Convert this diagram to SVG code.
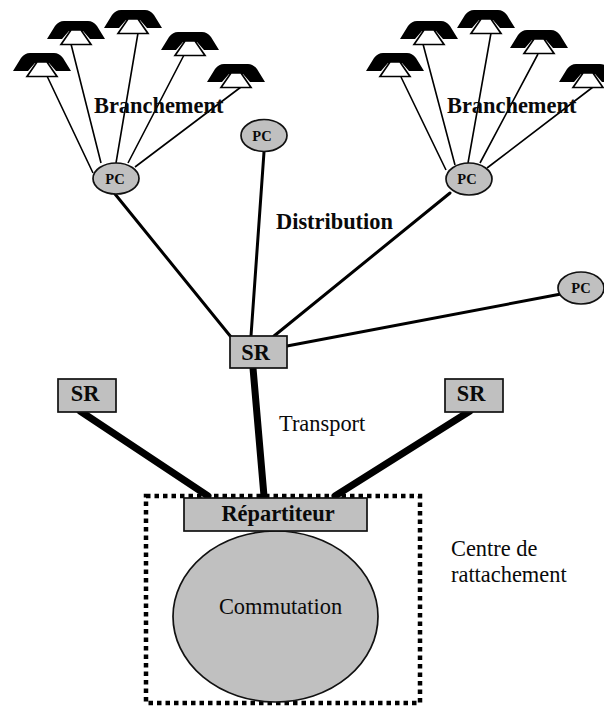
<svg xmlns="http://www.w3.org/2000/svg" width="604" height="706" viewBox="0 0 604 706">
<style>
text{font-family:"Liberation Serif","Times New Roman",serif;fill:#0a0a0a;font-size:22.400px}
.b{font-weight:bold}
.c{text-anchor:middle}
.p{font-size:14.500px}
.g{fill:#c0c0c0;stroke:#111;stroke-width:1.7}
.l1{stroke:#000;stroke-width:1.6;fill:none}
.l2{stroke:#000;stroke-width:3;fill:none;stroke-linecap:round}
.l3{stroke:#000;stroke-width:7;fill:none;stroke-linecap:round}
</style>
<defs>
<g id="phone">
<path d="M-29 18 L-21 5 Q-17 0 -12 0 L12 0 Q17 0 21 5 L29 18 L14 18 L7 10 L-7 10 L-14 18 Z" fill="#000"/>
<path d="M-15 23.500 L-5 9 L5 9 L15 23.500 Z" fill="#fff" stroke="#000" stroke-width="1.700"/>
</g>
</defs>
<g id="connectors">
<path class="l1" d="M47 76L93 173M71 44L101 163M138 33L116 163M184 55L128 163M241 87L135 167"/>
<path class="l1" d="M401 77L446 170M423 44L455 165M491 33L468 163M538 54L480 163M593 87L487 168"/>
<path class="l2" d="M115 194L231 337M264 152L251 336M450 193L274 336M287 346L561 294"/>
<path class="l3" d="M253 368L264 496M80 411L208 496M470 411L335 496"/>
</g>
<g id="phones">
<use href="#phone" x="42" y="53"/><use href="#phone" x="76" y="21"/><use href="#phone" x="133" y="10"/><use href="#phone" x="190" y="32"/><use href="#phone" x="236" y="64"/>
<use href="#phone" x="395" y="53"/><use href="#phone" x="429" y="21"/><use href="#phone" x="486" y="10"/><use href="#phone" x="539" y="30"/><use href="#phone" x="588" y="64"/>
</g>
<g id="centre"><rect x="146" y="496" width="274" height="207" fill="none" stroke="#000" stroke-width="4.500" stroke-dasharray="4.500 4"/></g>
<g id="commutation"><ellipse class="g" cx="275.500" cy="616.500" rx="102.500" ry="85.500"/><text x="280.500" y="614" class="c">Commutation</text></g>
<g id="repartiteur"><rect class="g" x="184" y="498" width="183" height="33"/><text x="278" y="521" class="c b">Répartiteur</text></g>
<g id="sr-centre"><rect class="g" x="230" y="336" width="57" height="32"/><text x="255.500" y="360" class="c b">SR</text></g>
<g id="sr-gauche"><rect class="g" x="58" y="379" width="58" height="33"/><text x="85" y="401" class="c b">SR</text></g>
<g id="sr-droite"><rect class="g" x="445" y="379" width="58" height="33"/><text x="471" y="401" class="c b">SR</text></g>
<g id="pc-1"><ellipse class="g" cx="116" cy="178.500" rx="23" ry="15.500"/><text x="115" y="184" class="c b p">PC</text></g>
<g id="pc-2"><ellipse class="g" cx="264" cy="135.500" rx="23" ry="16"/><text x="262" y="141" class="c b p">PC</text></g>
<g id="pc-3"><ellipse class="g" cx="469" cy="179" rx="23" ry="16"/><text x="467" y="184" class="c b p">PC</text></g>
<g id="pc-4"><ellipse class="g" cx="581" cy="288" rx="23" ry="16"/><text x="581" y="293" class="c b p">PC</text></g>
<g id="labels">
<text x="94" y="113" class="b">Branchement</text>
<text x="447" y="113" class="b">Branchement</text>
<text x="276" y="229" class="b">Distribution</text>
<text x="279" y="431">Transport</text>
<text x="451" y="556">Centre de</text>
<text x="451" y="582">rattachement</text>
</g>
</svg>
